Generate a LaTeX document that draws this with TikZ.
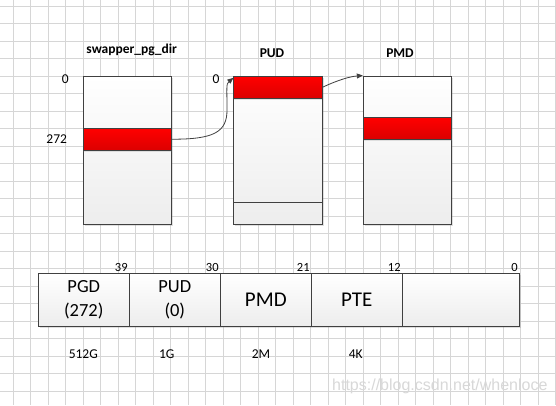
\documentclass[tikz,border=0pt]{standalone}
\usepackage{fontspec}
\setmainfont{Carlito}
\newfontfamily\markfont{Liberation Sans}
\usetikzlibrary{positioning,arrows.meta,shadows}
\definecolor{Paper}{HTML}{FFFFFF}
\definecolor{GridLine}{HTML}{D6D6D6}
\definecolor{Edge}{HTML}{404040}
\definecolor{BoxTop}{HTML}{FFFFFF}
\definecolor{BoxBot}{HTML}{EDEDED}
\definecolor{SlotTop}{HTML}{FF0000}
\definecolor{SlotBot}{HTML}{DC0000}
\definecolor{Mark}{HTML}{D8D8D8}

\begin{document}
\begin{tikzpicture}[x=1pt,y=-1pt,every node/.style={font=\fontsize{13.5}{16}\selectfont,text=black},
  tbl/.style={draw=Edge,line width=0.9pt,top color=BoxTop,bottom color=BoxBot,minimum width=88.4pt,minimum height=148pt,inner sep=0pt,drop shadow={shadow xshift=1.5pt,shadow yshift=-1.5pt,opacity=.25}},
  slot/.style={draw=Edge,line width=0.9pt,top color=SlotTop,bottom color=SlotBot,minimum width=88.4pt,minimum height=21.8pt,inner sep=0pt,drop shadow={shadow xshift=0pt,shadow yshift=-1.5pt,opacity=.2}},
  title/.style={font=\bfseries\fontsize{13.5}{16}\selectfont},
  cell/.style={draw=Edge,line width=0.9pt,top color=BoxTop,bottom color=BoxBot,minimum width=91pt,minimum height=52.7pt,inner sep=0pt,outer sep=0pt,align=center,font=\fontsize{18.5}{23.5}\selectfont,drop shadow={shadow xshift=1.5pt,shadow yshift=-1.5pt,opacity=.25}},
  bigcell/.style={cell,font=\fontsize{21}{24}\selectfont},
  bitnum/.style={anchor=south east,inner sep=1.5pt,font=\fontsize{12.5}{14}\selectfont},
  link/.style={Edge,line width=0.8pt,-{Triangle[length=6pt,width=5pt]}}]
\fill[Paper] (0,0) rectangle (556,405);
\useasboundingbox (0,0) rectangle (556,405);
% background grid
\foreach \k in {0,...,31} \draw[GridLine,line width=0.8pt] ({13.3+17.5*\k},0)--({13.3+17.5*\k},405);
\foreach \k in {0,...,22} \draw[GridLine,line width=0.8pt] (0,{6+17.5*\k})--(556,{6+17.5*\k});
% page tables
\node[tbl] (pgdtab) at (127.5,150) {};
\node[tbl] (pudtab) at (278,150) {};
\node[tbl] (pmdtab) at (407.5,150) {};
\node[slot] (pgdslot) at (127.5,139.2) {};
\node[slot] (pudslot) at (278,87.2) {};
\node[slot] (pmdslot) at (407.5,128.3) {};
\draw[Edge,line width=0.9pt] ([yshift=21.7pt]pudtab.south west)--([yshift=21.7pt]pudtab.south east);
\node[title] (pgdname) at (131.7,50) {swapper\_pg\_dir};
\node[title] (pudname) at (272,52.8) {PUD};
\node[title] (pmdname) at (400,52.8) {PMD};
\node (pgdzero) at (65.3,79.3) {0};\node (pgdidx) at (56.7,138.7) {272};\node (pudzero) at (216,79.3) {0};
\draw[link] (pgdslot.east) .. controls (214,139.3) and (227,132) .. (227,110) .. controls (227,88) and (226,84) .. ([yshift=-2.3pt]pudtab.north west);
\draw[link] (pudslot.east) .. controls (338,80) and (350,76.5) .. (pmdtab.north west);
% virtual address bits
\node[cell] (pgdbits) at (83.8,299.7) {PGD\\(272)};
\node[cell,right=0pt of pgdbits] (pudbits) {PUD\\(0)};
\node[bigcell,right=0pt of pudbits] (pmdbits) {PMD};
\node[bigcell,right=0pt of pmdbits] (ptebits) {PTE};
\node[cell,right=0pt of ptebits,minimum width=117pt] (offbits) {};
\node[bitnum] (b39) at (pgdbits.north east) {39};\node[bitnum] (b30) at (pudbits.north east) {30};
\node[bitnum] (b21) at (pmdbits.north east) {21};\node[bitnum] (b12) at (ptebits.north east) {12};
\node[bitnum] (b0) at (offbits.north east) {0};
\node (s512) at (83.3,354.3) {512G};\node (s1g) at (166.7,354.3) {1G};
\node (s2m) at (261,354.3) {2M};\node (s4k) at (355.7,354.3) {4K};
\node[anchor=west,inner sep=0pt,text=Mark,font=\markfont\fontsize{16}{18}\selectfont] (mark) at (332,386) {https://blog.csdn.net/whenloce};
\end{tikzpicture}
\end{document}
